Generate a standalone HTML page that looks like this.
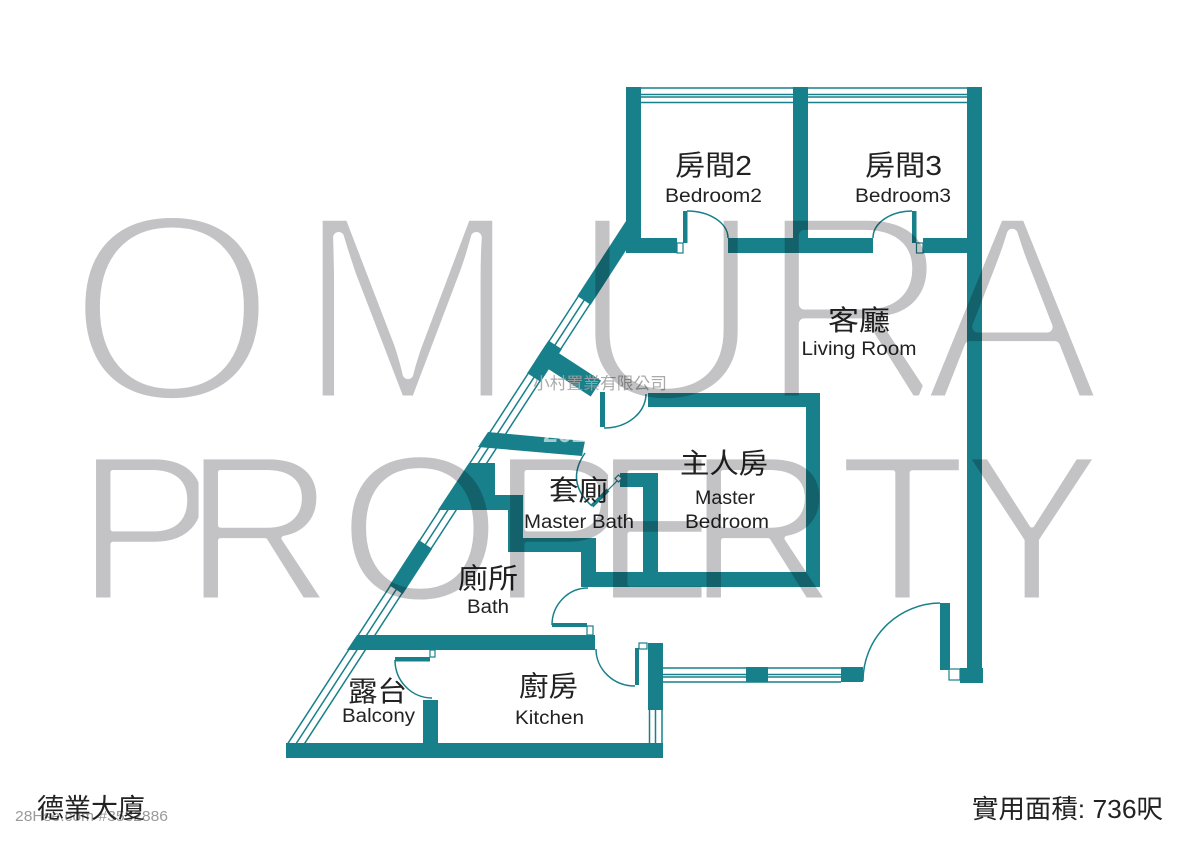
<!DOCTYPE html>
<html><head><meta charset="utf-8">
<style>
html,body{margin:0;padding:0;background:#fff;width:1200px;height:848px;overflow:hidden}
svg{display:block}
.cj{font-family:"Liberation Sans","Noto Sans CJK TC","Noto Sans CJK SC",sans-serif;fill:#222}
.la{font-family:"Liberation Sans",sans-serif;fill:#222}
</style></head><body>
<svg xmlns="http://www.w3.org/2000/svg" width="1200" height="848" viewBox="0 0 1200 848">
<rect width="1200" height="848" fill="#fff"/>

<!-- thin lines: windows & door swings -->
<g fill="none" stroke="#18808a" stroke-width="1.5">
 <path d="M641 88H793M641 94.5H793M641 97H793M641 102.5H793M808 88H967M808 94.5H967M808 97H967M808 102.5H967"/>
 <path d="M663 668H841M663 674.5H841M663 677H841M663 682H841"/>
 <path d="M649.5 710V744M655.5 710V744M662 710V744"/>
 <path d="M687 211A41 27 0 0 1 728 238"/>
 <path d="M873 238A39 27 0 0 1 912 211"/>
 <path d="M863 681A78 78 0 0 1 940 603"/>
 <path d="M552 625A36 37 0 0 1 588 588"/>
 <path d="M596 649A39 37 0 0 0 635 686"/>
 <path d="M395 660A37 38 0 0 0 432 698"/>
 <path d="M604 428A42 34 0 0 0 646 394"/>
 <path d="M585 453Q565 482 592 506"/>
 <path d="M608 490L620 478" stroke-width="1.2"/>
</g>

<!-- diagonal facade -->
<g transform="translate(287,743) rotate(-57)">
 <g fill="none" stroke="#18808a" stroke-width="1.5">
  <path d="M0 1H535M0 8H535M0 15H535"/>
 </g>
 <g fill="#18808a">
  <rect x="188" y="0" width="54" height="16"/>
  <rect x="441" y="0" width="39" height="16"/>
  <rect x="456" y="0" width="19" height="66"/>
  <rect x="533" y="0" width="92" height="16"/>
 </g>
</g>

<!-- walls -->
<g fill="#18808a">
 <rect x="626" y="87" width="15" height="166"/>
 <rect x="793" y="87" width="15" height="166"/>
 <rect x="967" y="87" width="15" height="596"/>
 <rect x="960" y="668" width="23" height="15"/>
 <rect x="626" y="238" width="51" height="15"/>
 <rect x="728" y="238" width="145" height="15"/>
 <rect x="923" y="238" width="44" height="15"/>
 <rect x="683" y="211" width="4.5" height="32"/>
 <rect x="912" y="211" width="4.5" height="32"/>

 <rect x="648" y="393" width="172" height="14"/>
 <rect x="806" y="393" width="14" height="194"/>
 <rect x="582" y="572" width="238" height="15"/>
 <rect x="643" y="473" width="15" height="99"/>
 <rect x="620" y="473" width="38" height="14"/>

 <polygon points="469,463 495,463 495,495 523,495 523,510 438,510"/>
 <rect x="508" y="495" width="15" height="57"/>
 <rect x="508" y="538" width="87" height="14"/>
 <rect x="581" y="538" width="15" height="49"/>
 <polygon points="488,432 585,441 582,456 478,447"/>

 <rect x="600" y="392" width="5" height="35"/>
 <line x1="592" y1="506" x2="608" y2="490" stroke="#18808a" stroke-width="4"/>

 <polygon points="357,635 595,635 595,650 347,650"/>
 <rect x="552" y="623" width="35" height="4"/>
 <rect x="635" y="648" width="4" height="37"/>
 <rect x="648" y="643" width="15" height="67"/>

 <rect x="746" y="667" width="22" height="15"/>
 <rect x="841" y="667" width="22" height="15"/>
 <rect x="940" y="603" width="10" height="67"/>

 <rect x="286" y="743" width="377" height="15"/>
 <rect x="423" y="700" width="15" height="44"/>
 <rect x="395" y="657" width="35" height="4.5"/>
</g>

<!-- small jamb squares -->
<g fill="#fff" stroke="#18808a" stroke-width="1.2">
 <rect x="677" y="243" width="6" height="10"/>
 <rect x="916.5" y="243" width="6.5" height="10"/>
 <rect x="587" y="626" width="6" height="9"/>
 <rect x="639" y="643" width="8" height="6"/>
 <rect x="430" y="650" width="5" height="7"/>
 <rect x="949" y="669" width="11" height="11"/>
 <rect x="616" y="476" width="5" height="5" transform="rotate(45 618.5 478.5)"/>
</g>

<!-- faint watermark on walls -->
<text x="543" y="442" font-family="Liberation Sans, sans-serif" font-weight="bold" font-size="26" fill="#fff" fill-opacity="0.6">2025</text>

<!-- room labels -->
<text class="cj" x="713.5" y="175" font-size="28" text-anchor="middle" textLength="77" lengthAdjust="spacingAndGlyphs">房間2</text>
<text class="la" x="713.5" y="202" font-size="19" text-anchor="middle" textLength="97" lengthAdjust="spacingAndGlyphs">Bedroom2</text>
<text class="cj" x="903.5" y="175" font-size="28" text-anchor="middle" textLength="77" lengthAdjust="spacingAndGlyphs">房間3</text>
<text class="la" x="903" y="202" font-size="19" text-anchor="middle" textLength="96" lengthAdjust="spacingAndGlyphs">Bedroom3</text>
<text class="cj" x="859" y="330" font-size="28" text-anchor="middle" textLength="62" lengthAdjust="spacingAndGlyphs">客廳</text>
<text class="la" x="859" y="355" font-size="19" text-anchor="middle" textLength="115" lengthAdjust="spacingAndGlyphs">Living Room</text>
<text class="cj" x="724" y="473" font-size="28" text-anchor="middle" textLength="88" lengthAdjust="spacingAndGlyphs">主人房</text>
<text class="la" x="725" y="504" font-size="19" text-anchor="middle" textLength="60" lengthAdjust="spacingAndGlyphs">Master</text>
<text class="la" x="727" y="528" font-size="19" text-anchor="middle" textLength="84" lengthAdjust="spacingAndGlyphs">Bedroom</text>
<text class="cj" x="578.5" y="500" font-size="28" text-anchor="middle" textLength="59" lengthAdjust="spacingAndGlyphs">套廁</text>
<text class="la" x="579" y="528" font-size="19" text-anchor="middle" textLength="110" lengthAdjust="spacingAndGlyphs">Master Bath</text>
<text class="cj" x="488" y="588" font-size="28" text-anchor="middle" textLength="60" lengthAdjust="spacingAndGlyphs">廁所</text>
<text class="la" x="488" y="613" font-size="19" text-anchor="middle" textLength="42" lengthAdjust="spacingAndGlyphs">Bath</text>
<text class="cj" x="377.5" y="701" font-size="28" text-anchor="middle" textLength="59" lengthAdjust="spacingAndGlyphs">露台</text>
<text class="la" x="378.5" y="722" font-size="19" text-anchor="middle" textLength="73" lengthAdjust="spacingAndGlyphs">Balcony</text>
<text class="cj" x="548.5" y="696" font-size="28" text-anchor="middle" textLength="59" lengthAdjust="spacingAndGlyphs">廚房</text>
<text class="la" x="549.5" y="724" font-size="19" text-anchor="middle" textLength="69" lengthAdjust="spacingAndGlyphs">Kitchen</text>

<!-- footer -->
<text x="15" y="821" font-family="Liberation Sans, sans-serif" font-size="15" fill="#9a9a9a" textLength="153" lengthAdjust="spacingAndGlyphs">28Hse.com #3532886</text>
<text class="cj" x="37" y="818" font-size="27" textLength="108" lengthAdjust="spacingAndGlyphs">德業大廈</text>
<text class="cj" x="972" y="818" font-size="26" textLength="191" lengthAdjust="spacingAndGlyphs">實用面積: 736呎</text>

<!-- company watermark -->
<text x="533" y="389" font-family="Liberation Sans, 'Noto Sans CJK TC', sans-serif" font-size="16.5" fill="#a3a3a3" fill-opacity="0.92" textLength="134" lengthAdjust="spacingAndGlyphs">小村置業有限公司</text>

<!-- big watermark -->
<g style="mix-blend-mode:multiply" fill="#c3c3c5" stroke="#fff" stroke-linejoin="round" font-family="Liberation Sans, sans-serif">
 <text x="67 295 569 757 922" y="401" font-size="270" stroke-width="11">OMURA</text>
 <text x="76.5 184 339 490.5 593.5 687 839 962.5" y="600" font-size="208" stroke-width="5">PROPERTY</text>
</g>
</svg>
</body></html>
